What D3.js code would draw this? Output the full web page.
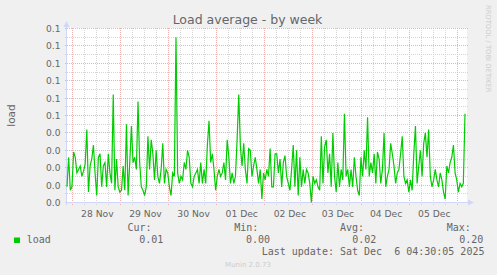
<!DOCTYPE html>
<html><head><meta charset="utf-8">
<script src="https://cdn.jsdelivr.net/npm/d3@7"></script>
<style>
html,body{margin:0;padding:0;background:#f0f0f0;}
svg{display:block;}
text{white-space:pre;}
</style></head><body>
<svg id="chart" width="497" height="275"></svg>
<script>
const title = "Load average - by week";
const yAxisTitle = "load";
const seriesName = "load";
const loadValues = [
0.009,0.026,0.007,0.009,0.029,0.026,0.017,0.019,0.021,0.015,
0.018,0.022,0.042,0.006,0.021,0.025,0.033,0.017,0.004,0.026,
0.028,0.009,0.021,0.023,0.009,0.028,0.017,0.011,0.062,0.007,
0.025,0.009,0.006,0.007,0.021,0.007,0.045,0.004,0.023,0.044,
0.023,0.026,0.019,0.058,0.023,0.009,0.007,0.004,0.009,0.038,
0.019,0.036,0.028,0.013,0.030,0.015,0.011,0.019,0.034,0.011,
0.019,0.017,0.009,0.004,0.017,0.015,0.095,0.017,0.011,0.015,
0.013,0.023,0.019,0.030,0.026,0.011,0.009,0.015,0.017,0.019,
0.011,0.023,0.011,0.019,0.011,0.033,0.047,0.023,0.028,0.019,
0.007,0.015,0.019,0.015,0.017,0.023,0.013,0.036,0.026,0.011,
0.017,0.011,0.015,0.036,0.062,0.032,0.021,0.034,0.019,0.011,
0.031,0.030,0.015,0.021,0.026,0.019,0.011,0.019,0.002,0.017,
0.013,0.019,
0.015,0.031,0.009,0.009,0.028,0.028,0.017,0.025,0.009,0.023,
0.027,0.015,0.011,0.007,0.019,0.033,0.009,0.030,0.004,0.026,
0.009,0.019,0.011,0.019,0.017,0.011,0.000,0.015,0.011,0.013,
0.009,0.007,0.038,0.011,0.032,0.036,0.017,0.028,0.009,0.040,
0.015,0.006,0.023,0.009,0.019,0.013,0.051,0.015,0.019,0.009,
0.019,0.009,0.026,0.015,0.007,0.004,0.026,0.015,0.030,0.019,
0.049,0.015,0.023,0.017,0.028,0.011,0.029,0.025,0.011,0.019,
0.040,0.009,0.015,0.019,0.034,0.028,0.021,0.011,0.017,0.019,
0.028,0.038,0.015,0.011,0.013,0.006,0.013,0.007,0.028,0.044,
0.011,0.021,0.030,0.015,0.034,0.040,0.026,0.042,0.015,0.009,
0.013,0.019,0.013,0.009,0.017,0.013,0.006,0.002,0.021,0.017,
0.023,0.026,0.033,0.017,0.013,0.006,0.011,0.009,0.011,0.051
];
const sampleStart = Date.UTC(2025,10,27,21,22);
const sampleEnd = Date.UTC(2025,11,6,3,50);
const viewStart = Date.UTC(2025,10,27,21,22);
const viewEnd = Date.UTC(2025,11,6,4,50);
const yTickValues = [0,0.01,0.02,0.03,0.04,0.05,0.06,0.07,0.08,0.09,0.1];
const yTickLabels = ["0.0","0.0","0.0","0.0","0.0","0.1","0.1","0.1","0.1","0.1","0.1"];
const dayLabels = ["28 Nov","29 Nov","30 Nov","01 Dec","02 Dec","03 Dec","04 Dec","05 Dec"];
const statLabels = ["Cur:","Min:","Avg:","Max:"];
const statValues = ["0.01","0.00","0.02","0.20"];
const lastUpdate = "Last update: Sat Dec  6 04:30:05 2025";
const footer = "Munin 2.0.73";
const watermark = "RRDTOOL / TOBI OETIKER";

const svg = d3.select("#chart");
const L = 67, R = 467, T = 28, B = 203;
const FONT = "'DejaVu Sans', sans-serif";
const MONO = "'DejaVu Sans Mono', monospace";
const fc = "#666666";

const x = d3.scaleUtc().domain([viewStart, viewEnd]).range([L, R]);
const y = d3.scaleLinear().domain([0, 0.1]).range([B - 0.5, T + 0.5]);
const px = v => Math.round(v - 0.5) + 0.5;

svg.append("rect").attr("width",497).attr("height",275).attr("fill","#f0f0f0");
svg.append("rect").attr("x",L).attr("y",T).attr("width",R-L).attr("height",B-T).attr("fill","#ffffff");

// minor grid
const g = svg.append("g");
const minorY = d3.range(0, 0.1001, 0.005).filter((v,i)=> i % 2 === 1);
g.selectAll(".mny").data(minorY).join("line")
  .attr("x1",L-2).attr("x2",R+1).attr("y1",d=>px(y(d))).attr("y2",d=>px(y(d)))
  .attr("stroke","#d6d6d6").attr("stroke-dasharray","1,1");
const sixH = d3.utcHour.every(6).range(new Date(viewStart), new Date(viewEnd)).filter(d=>d.getUTCHours()!==0);
g.selectAll(".mnx").data(sixH).join("line")
  .attr("x1",d=>px(x(d))).attr("x2",d=>px(x(d))).attr("y1",T).attr("y2",B+2)
  .attr("stroke","#d6d6d6").attr("stroke-dasharray","1,1");
// major grid
g.selectAll(".mjy").data(yTickValues).join("line")
  .attr("x1",L-2).attr("x2",R+2).attr("y1",d=>px(y(d))).attr("y2",d=>px(y(d)))
  .attr("stroke","#efb0b0").attr("stroke-dasharray","1,1");
const days = d3.utcDay.range(new Date(viewStart), new Date(viewEnd));
g.selectAll(".mjx").data(days).join("line")
  .attr("x1",d=>px(x(d))).attr("x2",d=>px(x(d))).attr("y1",T).attr("y2",B+3)
  .attr("stroke","#efb0b0").attr("stroke-dasharray","1,1");

// axes
const axc = "#CFD6F8";
svg.append("line").attr("x1",L-2).attr("x2",R+2).attr("y1",B-0.5).attr("y2",B-0.5).attr("stroke",axc);
svg.append("line").attr("x1",L-0.5).attr("x2",L-0.5).attr("y1",B+2).attr("y2",T-1).attr("stroke",axc);
svg.append("path").attr("d",`M${L-3.5},${T-1}L${L+2.5},${T-1}L${L-0.5},${T-7}Z`).attr("fill",axc);
svg.append("path").attr("d",`M${R+1},${B-3.5}L${R+1},${B+2.5}L${R+7},${B-0.5}Z`).attr("fill",axc);

// y tick labels
svg.selectAll(".yl").data(yTickValues).join("text")
  .attr("x",60.5).attr("y",d=>px(y(d))+3.3).attr("text-anchor","end")
  .attr("font-family",FONT).attr("font-size",9.1).attr("fill",fc)
  .text((d,i)=>yTickLabels[i]);

// x tick labels at noon
const noons = days.map(d=>d3.utcHour.offset(d,12));
svg.selectAll(".xl").data(noons).join("text")
  .attr("x",d=>x(d)+1).attr("y",216.5).attr("text-anchor","middle")
  .attr("font-family",FONT).attr("font-size",9.2).attr("fill",fc)
  .text((d,i)=>dayLabels[i]);

// data line
const n = loadValues.length;
const data = loadValues.map((v,i)=>({t: new Date(sampleStart + i*(sampleEnd-sampleStart)/(n-1)), v}));
svg.append("path").datum(data)
  .attr("d", d3.line().x(d=>x(d.t)).y(d=>y(d.v)))
  .attr("fill","none").attr("stroke","#00cc00").attr("stroke-width",1.2);

// title and labels
svg.append("text").attr("x",247.5).attr("y",24).attr("text-anchor","middle")
  .attr("font-family",FONT).attr("font-size",12.5).attr("fill",fc).text(title);
svg.append("text").attr("transform","translate(15,115.5) rotate(-90)").attr("text-anchor","middle")
  .attr("font-family",FONT).attr("font-size",10.5).attr("fill",fc).text(yAxisTitle);
svg.append("text").attr("transform","translate(486,5) rotate(90)")
  .attr("font-family",FONT).attr("font-size",6.8).attr("fill","#cccccc").text(watermark);

// legend
svg.append("rect").attr("x",14).attr("y",237.5).attr("width",6).attr("height",5.5).attr("fill","#00cc00");
svg.append("text").attr("x",26.7).attr("y",243).attr("font-family",MONO).attr("font-size",10).attr("fill",fc).text(seriesName);
const statLabelX = [127.5,234.3,340,446.7];
const statValueX = [139.3,246,352.3,459.3];
statLabels.forEach((s,i)=>{
  svg.append("text").attr("x",statLabelX[i]).attr("y",231).attr("font-family",MONO).attr("font-size",10).attr("fill",fc).text(s);
  svg.append("text").attr("x",statValueX[i]).attr("y",243).attr("font-family",MONO).attr("font-size",10).attr("fill",fc).text(statValues[i]);
});
svg.append("text").attr("x",261.7).attr("y",255.3).attr("font-family",MONO).attr("font-size",10).attr("fill",fc).text(lastUpdate);
svg.append("text").attr("x",248).attr("y",266.5).attr("text-anchor","middle")
  .attr("font-family",FONT).attr("font-size",7).attr("fill","#cccccc").text(footer);
</script>
</body></html>
